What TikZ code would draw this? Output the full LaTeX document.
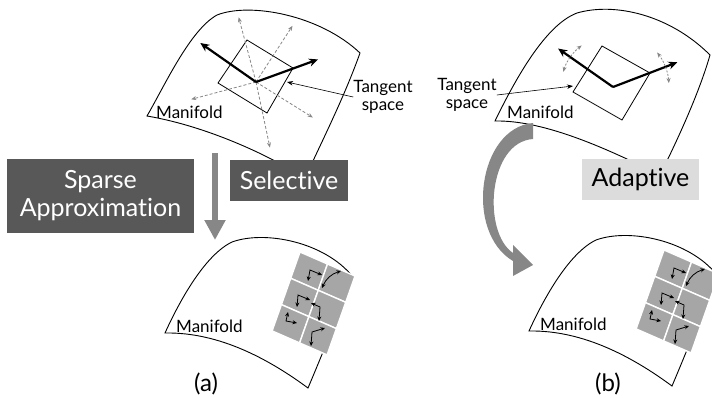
\documentclass[tikz,border=0pt]{standalone}
\usepackage{fontspec}
\setmainfont{Lato}[Ligatures=NoCommon]
\usepackage{tikz}
\usetikzlibrary{arrows.meta, positioning}
\definecolor{boxdark}{RGB}{88,88,88}
\definecolor{boxlight}{RGB}{220,220,220}
\definecolor{cellgray}{RGB}{166,166,166}
\definecolor{flowgray}{RGB}{135,135,135}

\begin{document}
\begin{tikzpicture}[
    x=1pt, y=-1pt,
    sheet/.style={draw=black, line width=0.9pt, fill=white},
    plane/.style={draw=black, line width=0.8pt},
    basis/.style={-{Stealth[length=9pt, width=8pt]}, line width=2.2pt},
    probe/.style={-{Stealth[length=5pt, width=4pt]}, draw=flowgray, line width=0.8pt, dash pattern=on 3pt off 2pt},
    swing/.style={{Stealth[length=5pt, width=4pt]}-{Stealth[length=5pt, width=4pt]}, draw=flowgray, line width=0.8pt, dash pattern=on 2pt off 1.5pt},
    pointer/.style={-{Stealth[length=6pt, width=4.5pt]}, line width=0.6pt},
    tiny/.style={{Stealth[length=4.5pt, width=4pt]}-{Stealth[length=4.5pt, width=4pt]}, line width=0.8pt},
    cell/.style={fill=cellgray, draw=white, line width=1.4pt},
    note/.style={font=\fontsize{17}{18}\selectfont, inner sep=0pt, align=center},
    darkbox/.style={fill=boxdark, text=white, font=\fontsize{25}{28}\selectfont, align=center, inner sep=0pt},
    lightbox/.style={fill=boxlight, text=black, font=\fontsize{25}{28}\selectfont, inner sep=0pt},
    flow/.style={line width=6.5pt, draw=flowgray, -{Triangle[length=20pt, width=20pt]}}
]
    \useasboundingbox (0,0) rectangle (712,397);
    \clip (0,0) rectangle (712,397);

    % Upper sheet, left panel
    \draw[sheet] (147,116) .. controls (165,85) and (190,30) .. (217,15)
        .. controls (250,2) and (320,15) .. (360,53)
        .. controls (345,95) and (325,135) .. (305,178)
        .. controls (260,150) and (200,125) .. (147,116) -- cycle;
    \node[note, anchor=base west] (mfa) at (156,118) {Manifold};

    % Tangent plane with candidate directions
    \coordinate (oa) at (256,82);
    \draw[plane] (247,40) -- (293,68) -- (267,113) -- (218,83) -- cycle;
    \foreach \ang in {-105,-57,-195,32,78}
        \draw[probe] (oa) -- ++(\ang:67);
    \draw[basis] (oa) -- ++(-145:68);
    \draw[basis] (oa) -- ++(-20:66);
    \node[note] (tsa) at (383,97) {Tangent\\space};
    \coordinate (tpa) at (287,82);
    \draw[pointer] (tsa.west) -- (tpa);

    % Upper sheet, right panel
    \draw[sheet] (495,121) .. controls (515,80) and (545,25) .. (577,13)
        .. controls (615,2) and (670,15) .. (710,55)
        .. controls (700,90) and (680,135) .. (660,175)
        .. controls (610,150) and (545,120) .. (495,121) -- cycle;
    \node[note, anchor=base west] (mfb) at (507,118) {Manifold};

    % Tangent plane with rotating basis
    \coordinate (ob) at (613,87);
    \draw[plane] (602,46) -- (650,73) -- (622,120) -- (573,92) -- cycle;
    \draw[basis] (ob) -- ++(-145:67);
    \draw[basis] (ob) -- ++(-21:69);
    \draw[swing] ([shift={(ob)}]-127:52) arc[start angle=-127, end angle=-163, radius=52];
    \draw[swing] ([shift={(ob)}]-38:56) arc[start angle=-38, end angle=-4, radius=56];
    \node[note] (tsb) at (467,95) {Tangent\\space};
    \coordinate (tpb) at (573,86);
    \draw[pointer] (tsb.east) -- (tpb);

    % Method boxes
    \node[darkbox, minimum width=187pt, minimum height=74pt] (sparse) at (100.5,196) {Sparse\\Approximation};
    \node[darkbox, minimum width=118pt, minimum height=41pt] (select) at (289,180.5) {Selective};
    \node[lightbox, minimum width=117pt, minimum height=41pt] (adapt) at (640.5,179.5) {Adaptive};

    % Straight flow arrow (a)
    \coordinate (fa0) at (215,153);
    \coordinate (fa1) at (215,240);
    \draw[flow] (fa0) -- (fa1);

    % Curved flow arrow (b)
    \fill[flowgray] (533,123) .. controls (478,128) and (464,232) .. (513,261)
        -- (513,276) -- (533,265) -- (513,245) -- (513,253)
        .. controls (482,232) and (488,142) .. (533,139) -- cycle;

    % Lower sheets with local patches
    \foreach \dx/\dy in {0/0, 364/-2} {
        \begin{scope}[shift={(\dx,\dy)}]
            \draw[sheet] (165,333) .. controls (180,300) and (205,255) .. (232,242)
                .. controls (265,230) and (325,242) .. (353,277)
                .. controls (338,315) and (322,355) .. (308,388)
                .. controls (270,360) and (220,332) .. (165,333) -- cycle;
            \node[note, anchor=base west] (mfl\dx) at (176,332) {Manifold};
            \foreach \i in {0,1}
                \foreach \j in {0,1,2}
                    \draw[cell] (300+27.5*\i-9.3*\j, 252+12*\i+26.3*\j) -- ++(27.5,12) -- ++(-9.3,26.3) -- ++(-27.5,-12) -- cycle;
            \draw[tiny] (308,281) -- (310,270) -- (322,275);
            \draw[tiny] (322,288) to[bend left=25] (341,271);
            \draw[tiny] (297,307) -- (298,295) -- (310,300);
            \draw[tiny] (311,303) -- (320,307) -- (319,321);
            \draw[tiny] (288,312) -- (286,321) -- (297,323);
            \draw[tiny] (311,346) -- (312,332) -- (325,328);
        \end{scope}
    }

    % Panel captions
    \node[font=\fontsize{24}{26}\selectfont] (capa) at (206,384) {(a)};
    \node[font=\fontsize{24}{26}\selectfont] (capb) at (608,384) {(b)};
\end{tikzpicture}
\end{document}
